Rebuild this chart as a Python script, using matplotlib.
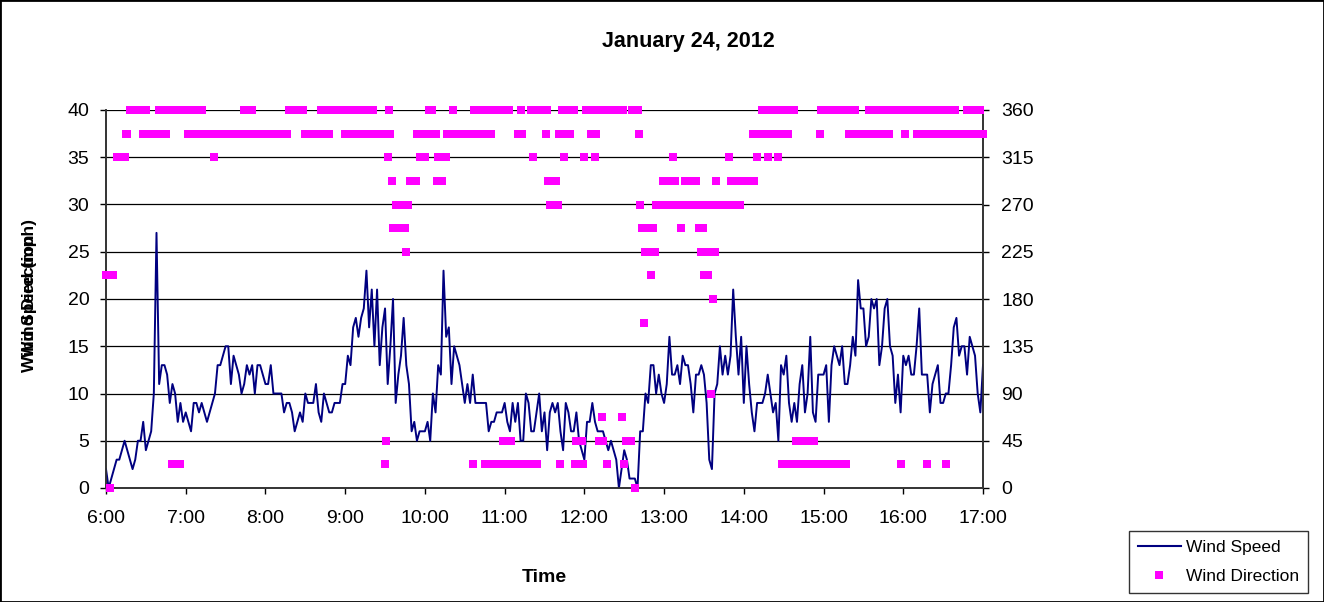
import matplotlib
matplotlib.use('Agg')
import matplotlib.pyplot as plt
from matplotlib.lines import Line2D
from matplotlib.patches import Rectangle

plt.rcParams['font.family'] = ['Liberation Sans', 'DejaVu Sans']

TITLE = 'January 24, 2012'
hour_labels = ['6:00', '7:00', '8:00', '9:00', '10:00', '11:00',
               '12:00', '13:00', '14:00', '15:00', '16:00', '17:00']

# wind speed (mph), one reading every 2 minutes from 6:00 to 17:00
speed_mph = [
    2, 0, 1, 2, 3, 3, 4, 5, 4, 3, 2, 3, 5, 5, 7, 4, 5, 6, 10, 27, 11, 13, 13, 12, 9, 11, 10, 7, 9, 7,
    8, 7, 6, 9, 9, 8, 9, 8, 7, 8, 9, 10, 13, 13, 14, 15, 15, 11, 14, 13, 12, 10, 11, 13, 12, 13, 10, 13, 13, 12,
    11, 11, 13, 10, 10, 10, 10, 8, 9, 9, 8, 6, 7, 8, 7, 10, 9, 9, 9, 11, 8, 7, 10, 9, 8, 8, 9, 9, 9, 11,
    11, 14, 13, 17, 18, 16, 18, 19, 23, 17, 21, 15, 21, 13, 17, 19, 11, 15, 20, 9, 12, 14, 18, 13, 11, 6, 7, 5, 6, 6,
    6, 7, 5, 10, 8, 13, 12, 23, 16, 17, 11, 15, 14, 13, 11, 9, 11, 9, 12, 9, 9, 9, 9, 9, 6, 7, 7, 8, 8, 8,
    9, 7, 6, 9, 7, 9, 5, 5, 10, 9, 6, 6, 8, 10, 6, 8, 4, 8, 9, 8, 9, 6, 4, 9, 8, 6, 6, 8, 5, 4,
    3, 7, 7, 9, 7, 6, 6, 6, 5, 4, 5, 4, 3, 0, 2, 4, 3, 1, 1, 1, 0, 6, 6, 10, 9, 13, 13, 10, 12, 10,
    9, 11, 16, 12, 12, 13, 11, 14, 13, 13, 11, 8, 12, 12, 13, 12, 9, 3, 2, 10, 11, 15, 12, 14, 12, 14, 21, 16, 12, 16,
    9, 15, 11, 8, 6, 9, 9, 9, 10, 12, 10, 8, 9, 5, 13, 12, 14, 9, 7, 9, 7, 11, 13, 8, 10, 16, 8, 7, 12, 12,
    12, 13, 7, 13, 15, 14, 13, 15, 11, 11, 13, 16, 14, 22, 19, 19, 15, 16, 20, 19, 20, 13, 15, 19, 20, 15, 14, 9, 12, 8,
    14, 13, 14, 12, 12, 15, 19, 12, 12, 12, 8, 11, 12, 13, 9, 9, 10, 10, 13, 17, 18, 14, 15, 15, 12, 16, 15, 14, 10, 8,
    13,
]
speed_minutes = list(range(0, 661, 2))

# wind direction (degrees) and the minute after 6:00 it was logged
dir_minutes = [
    0, 2, 3, 5, 8, 10, 12, 14, 15, 16, 18, 20, 22, 24, 26, 28, 30, 32, 34, 36, 38,
    40, 42, 44, 45, 46, 48, 50, 52, 54, 56, 57,
    60, 62, 64, 66, 68, 70, 72, 74, 76, 78, 81, 82, 84, 86, 88, 90, 92, 94, 96, 98,
    100, 102, 104, 106, 108, 110, 112, 114, 116, 118,
    120, 122, 124, 126, 128, 130, 132, 134, 136, 138, 140, 142, 144, 146, 148,
    150, 152, 154, 156, 158, 160, 162, 164, 166, 168, 170, 172, 174, 176, 178,
    180, 182, 184, 186, 188, 190, 192, 194, 196, 198, 200, 201, 202, 204, 206, 208,
    210, 211, 212, 213, 214, 215, 216, 218, 219, 220, 222, 224, 225, 226, 227,
    229, 231, 233, 234, 236, 237, 238, 239,
    240, 241, 243, 244, 245, 246, 248, 249, 250, 251, 252, 253, 254,
    256, 257, 259, 261, 263, 265, 267, 269, 271, 273,
    276, 277, 278, 279, 280, 281, 282, 283, 284,
    285, 286, 287, 288, 289, 290, 291, 292, 294, 295, 297, 298, 299,
    300, 301, 302, 303, 304, 305, 307, 309, 310, 311, 312, 313, 314,
    316, 318, 320, 321, 322, 323, 324, 325, 327, 329, 331, 332,
    333, 334, 335, 336, 337, 338, 339, 340,
    341, 342, 343, 344, 345, 346, 347, 348, 349, 350,
    352, 353, 354, 355, 356, 357, 358, 359,
    360, 361, 363, 365, 366, 367, 368, 369, 370,
    371, 372, 373, 374, 375, 377, 378, 380, 382, 384, 386, 388, 389,
    390, 391, 393, 395, 396, 398, 399, 400,
    401, 402, 403, 405, 406, 407, 408, 409, 410,
    411, 412, 413, 414, 416, 418, 419,
    420, 421, 422, 423, 424, 425, 426, 427, 428, 429, 431, 433, 434,
    436, 437, 438, 439, 440, 441, 442, 443, 444, 445,
    446, 447, 448, 449, 450, 451, 452, 453, 454, 455, 456, 457, 458, 459,
    460, 462, 464, 466, 468,
    469, 470, 471, 472, 473, 474, 475, 476, 477, 478,
    480, 482, 484, 486, 487, 488, 489, 490, 491,
    493, 494, 495, 496, 497, 498, 499, 500, 501, 502, 503, 504, 505, 506,
    507, 508, 509, 510, 511, 512, 513, 514, 515, 516, 517, 518,
    519, 520, 521, 522, 523, 524, 525, 526, 527, 528, 529, 530, 531, 532, 533, 534,
    536, 537, 538, 539,
    540, 541, 542, 543, 544, 545, 546, 547, 548, 549, 550, 551, 552, 553, 554, 555, 556, 557, 558,
    559, 560, 561, 562, 563, 564, 565, 567, 569, 571, 573,
    574, 575, 576, 577, 578, 579, 580, 581, 582, 583, 584, 585, 586, 587, 588, 589,
    590, 592, 594, 596, 598, 599,
    600, 601, 602, 604, 606, 608,
    610, 611, 612, 613, 614, 615, 616, 617, 618, 619, 620, 621, 622, 623, 624,
    625, 626, 627, 628, 629, 630, 631, 632, 633, 634, 635, 636, 637, 638, 639,
    640, 642, 644, 646, 648, 649, 650, 652, 654, 655, 656, 657, 658, 659, 660,
]
dir_degrees = [
    202.5, 202.5, 0, 202.5, 315, 315, 315, 315, 337.5, 337.5, 360, 360, 360, 360, 360,
    337.5, 360, 337.5, 337.5, 337.5, 337.5,
    360, 337.5, 360, 337.5, 360, 360, 22.5, 360, 22.5, 22.5, 360,
    360, 337.5, 360, 337.5, 360, 337.5, 360, 337.5, 337.5, 337.5, 315, 337.5,
    337.5, 337.5, 337.5, 337.5, 337.5, 337.5, 337.5, 337.5,
    337.5, 337.5, 360, 337.5, 360, 360, 337.5, 337.5, 337.5, 337.5,
    337.5, 337.5, 337.5, 337.5, 337.5, 337.5, 337.5, 337.5, 337.5,
    360, 360, 360, 360, 360, 360,
    337.5, 337.5, 337.5, 337.5, 337.5, 337.5, 360, 337.5, 360, 337.5,
    360, 360, 360, 360, 360,
    337.5, 360, 337.5, 360, 337.5, 360, 337.5, 360, 337.5, 360, 337.5, 360,
    337.5, 337.5, 337.5, 337.5,
    22.5, 45, 315, 360, 337.5, 292.5, 247.5, 270, 247.5, 270, 247.5, 270, 247.5, 225, 270,
    292.5, 292.5, 292.5, 337.5, 315, 337.5, 315, 337.5,
    315, 337.5, 360, 337.5, 360, 337.5, 337.5, 292.5, 315, 292.5, 315, 292.5, 315,
    315, 337.5, 337.5, 360, 337.5, 337.5, 337.5, 337.5, 337.5, 337.5,
    22.5, 360, 337.5, 360, 337.5, 360, 337.5, 360, 337.5,
    22.5, 360, 337.5, 22.5, 360, 337.5, 22.5, 360, 22.5, 360, 22.5, 360, 45,
    22.5, 360, 45, 360, 22.5, 45, 22.5, 22.5, 337.5, 22.5, 360, 337.5, 22.5,
    22.5, 22.5, 360, 315, 22.5, 360, 22.5, 360, 360, 360, 337.5, 360,
    292.5, 270, 292.5, 270, 292.5, 270, 292.5, 270,
    337.5, 22.5, 360, 337.5, 315, 360, 337.5, 360, 337.5, 360,
    360, 22.5, 45, 22.5, 45, 22.5, 45, 22.5,
    315, 360, 360, 337.5, 360, 337.5, 315, 337.5, 360,
    45, 360, 67.5, 45, 360, 22.5, 360, 360, 360, 360, 360, 67.5, 360,
    22.5, 45, 45, 45, 360, 0, 360, 360,
    337.5, 270, 247.5, 157.5, 225, 247.5, 225, 247.5, 202.5,
    225, 247.5, 225, 270, 270, 270, 292.5,
    270, 292.5, 270, 292.5, 270, 292.5, 270, 315, 292.5, 270, 270, 247.5, 270,
    292.5, 270, 292.5, 270, 292.5, 270, 292.5, 270, 292.5, 270,
    247.5, 270, 225, 247.5, 202.5, 225, 270, 202.5, 225, 90, 270, 180, 225, 292.5,
    270, 270, 270, 270, 270,
    315, 292.5, 270, 292.5, 270, 292.5, 270, 292.5, 270, 292.5,
    292.5, 292.5, 292.5, 292.5, 337.5, 292.5, 337.5, 315, 337.5,
    337.5, 360, 337.5, 360, 337.5, 315, 360, 337.5, 360, 337.5, 360, 337.5, 360, 315,
    337.5, 360, 22.5, 337.5, 360, 22.5, 337.5, 360, 22.5, 360, 22.5, 360,
    45, 22.5, 45, 22.5, 45, 22.5, 45, 22.5, 45, 22.5, 45, 22.5, 45, 22.5, 45, 22.5,
    22.5, 337.5, 360, 22.5,
    360, 22.5, 360, 22.5, 360, 22.5, 360, 22.5, 360, 22.5, 360, 22.5, 360, 22.5, 360, 22.5, 360, 22.5, 360,
    337.5, 360, 337.5, 360, 337.5, 360, 337.5, 337.5, 337.5, 337.5, 337.5,
    360, 337.5, 360, 337.5, 360, 337.5, 360, 337.5, 360, 337.5, 360, 337.5, 360, 337.5, 360, 337.5,
    360, 360, 360, 360, 22.5, 360,
    360, 337.5, 360, 360, 360, 360,
    337.5, 360, 337.5, 360, 337.5, 360, 337.5, 360, 22.5, 360, 337.5, 360, 337.5, 360, 337.5,
    360, 337.5, 360, 337.5, 360, 337.5, 360, 22.5, 360, 337.5, 360, 337.5, 360, 337.5, 360,
    337.5, 337.5, 337.5, 337.5, 360, 337.5, 337.5, 337.5, 360, 337.5, 360, 337.5, 360, 337.5, 337.5,
]

W, H = 1324, 602
fig = plt.figure(figsize=(W / 100, H / 100), dpi=100)
ax = fig.add_axes([106 / W, 1 - 488 / H, (983 - 106) / W, (488 - 110) / H])

ax.plot(speed_minutes, speed_mph, color='#000080', lw=1.4, zorder=3)
ax.set_xlim(0, 660)
ax.set_ylim(0, 40)
ax.set_yticks(range(0, 41, 5))
ax.set_xticks(range(0, 661, 60))
ax.set_xticklabels(hour_labels)
ax.yaxis.grid(True, color='black', lw=0.9)
ax.set_axisbelow(True)
ax.spines['top'].set_visible(False)
for s in ('left', 'right', 'bottom'):
    ax.spines[s].set_color('#333333')
    ax.spines[s].set_linewidth(1.2)
ax.tick_params(axis='y', direction='out', length=4, width=1, labelsize=14, pad=8)
ax.tick_params(axis='x', direction='out', length=4, width=1, labelsize=14, pad=12)

ax2 = ax.twinx()
ax2.plot(dir_minutes, dir_degrees, ls='none', marker='s', ms=5.3, mew=0,
         color='#FF00FF', clip_on=False, zorder=4)
ax2.set_ylim(0, 360)
ax2.set_yticks(range(0, 361, 45))
ax2.spines['top'].set_visible(False)
for s in ('left', 'right', 'bottom'):
    ax2.spines[s].set_color('#333333')
    ax2.spines[s].set_linewidth(1.2)
ax2.tick_params(axis='y', direction='out', length=4, width=1, labelsize=14, pad=9)

fig.text(688 / W, 1 - 41 / H, TITLE, ha='center', va='center',
         fontsize=15.5, fontweight='bold')
fig.text(544 / W, 1 - 578 / H, 'Time', ha='center', va='center',
         fontsize=14, fontweight='bold')
# both axis titles sit in the same spot on the left
for label in ('Wind Speed (mph)', 'Wind Direction'):
    fig.text(30 / W, 1 - 296 / H, label, rotation=90, ha='center', va='center',
             fontsize=12.5, fontweight='bold')

handles = [
    Line2D([], [], color='#000080', lw=1.5),
    Line2D([], [], ls='none', marker='s', ms=5.3, mew=0, color='#FF00FF'),
]
leg = fig.legend(handles, ['Wind Speed', 'Wind Direction'],
                 loc='lower right', bbox_to_anchor=(1308 / W, 1 - 593 / H),
                 borderaxespad=0, fontsize=12.5, frameon=True, fancybox=False,
                 handlelength=2.5, borderpad=0.5, labelspacing=0.8,
                 handletextpad=0.3)
leg.get_frame().set_edgecolor('black')
leg.get_frame().set_linewidth(1.0)

fig.patches.append(Rectangle((0, 0), 1, 1, transform=fig.transFigure, fill=False,
                             edgecolor='black', lw=2))

fig.savefig('out.png', dpi=100)
